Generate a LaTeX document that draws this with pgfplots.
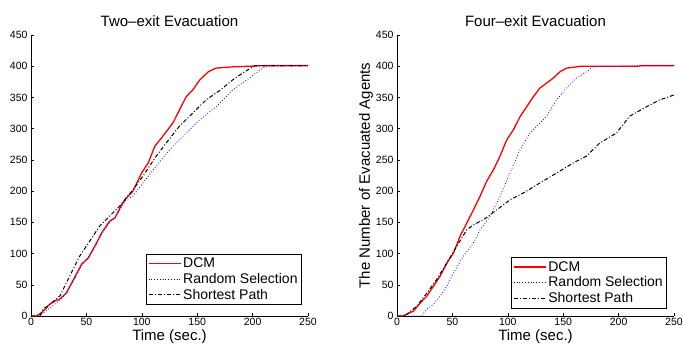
\documentclass[border=0pt]{standalone}
\usepackage{pgfplots}
\pgfplotsset{compat=1.18}
\usepackage{fontspec}
\setmainfont{Liberation Sans}
\pgfplotsset{
  myax/.style={
    scale only axis, width=277pt, height=281pt,
    xmin=0, xmax=250, ymin=0, ymax=450,
    xtick={0,50,...,250}, ytick={0,50,...,450},
    axis lines*=left, axis line style={black, line width=0.5pt},
    tick align=inside, tick style={black, line width=0.5pt},
    major tick length=3pt,
    tick label style={font=\fontsize{10.5}{12}\selectfont},
    xticklabel style={yshift=1pt},
    /pgf/number format/assume math mode=true,
    xlabel={Time (sec.)},
    xlabel style={font=\fontsize{15}{17}\selectfont, yshift=3pt},
    ylabel style={font=\fontsize{15}{17}\selectfont, yshift=-4pt},
    title style={font=\fontsize{15}{17}\selectfont, yshift=-1pt},
    legend cell align=left,
    legend style={font=\fontsize{14}{16}\selectfont, draw=black, line width=0.6pt, inner sep=2pt, row sep=0pt, nodes={inner sep=2pt}},
    clip=false,
  },
  dcm/.style={red, line width=1.3pt},
  rnd/.style={blue, dotted, line width=0.8pt},
  spt/.style={black, dash pattern=on 4pt off 2pt on 1pt off 2pt, line width=1pt},
  legend image code/.code={\draw[#1] (0pt,0pt) -- (32pt,0pt);},
}
\begin{document}
\begin{tikzpicture}
\begin{axis}[myax, at={(0pt,0pt)}, title={Two–exit Evacuation}, ylabel={\phantom{T}},
  legend style={at={(0.978,0.039)}, anchor=south east}]
\addlegendimage{dcm}
\addlegendentry{DCM}
\addlegendimage{rnd}
\addlegendentry{Random Selection}
\addlegendimage{spt}
\addlegendentry{Shortest Path}
\addplot[dcm, forget plot] coordinates {
(0,0)(5,0)(10,6)(17,19)(21.6,24)(26,27)(32,37)(40,64)(45.7,83)(51.7,93)(57.7,112)(63.7,133)(71,152)(75.7,157)(81.7,178)(86,189)(92,200)(99.8,229)(105.8,245)(111.8,272)(119,288)(128,309)(134,330)(140,351)(146,362)(152.3,378)(159.9,391)(167,397)(182,399)(197,400)(212,401)(250,401)};
\addplot[rnd, forget plot] coordinates {
(0,0)(8,0)(12,6)(17,13)(25,24)(32,37)(40,62)(46,82)(52,94)(58,112)(64,132)(71,150)(76,158)(82,175)(86,186)(92,192)(101,213)(113,240)(128,272)(140,293)(152,314)(167,335)(182,362)(197,381)(209,397)(212,400)(250,401)};
\addplot[spt, forget plot] coordinates {
(0,0)(8,0)(11,11)(18,20)(26,32)(35,64)(44,96)(53,120)(62,144)(71,160)(80,176)(92,202)(101,224)(113,256)(122,277)(134,304)(146,325)(158,346)(171,362)(182,378)(191,389)(200,399)(203,401)(250,401)};
\end{axis}
\begin{axis}[myax, at={(366pt,0pt)}, title={Four–exit Evacuation},
  ylabel={The Number of Evacuated Agents},
  legend style={at={(0.975,0.028)}, anchor=south east}]
\addlegendimage{dcm}
\addlegendentry{DCM}
\addlegendimage{rnd}
\addlegendentry{Random Selection}
\addlegendimage{spt}
\addlegendentry{Shortest Path}
\addplot[dcm, forget plot] coordinates {
(0,0)(5,0)(9,3)(15,8)(21,21)(27,32)(33,48)(39,64)(45,85)(51,101)(57,128)(63,149)(69,170)(75,192)(81,216)(87,234)(93,256)(99,282)(105,298)(111,319)(117,335)(123,351)(129,365)(135,373)(141,381)(147,391)(153,397)(162,399)(165,400)(218,400)(220,401)(250,401)};
\addplot[rnd, forget plot] coordinates {
(0,0)(22,0)(27,11)(33,19)(39,32)(45,48)(51,69)(60,96)(69,117)(75,138)(84,160)(93,192)(102,229)(111,266)(120,293)(129,309)(135,320)(144,346)(153,365)(162,381)(171,391)(177,399)(200,400)(220,401)(250,401)};
\addplot[spt, forget plot] coordinates {
(0,0)(7,0)(9,3)(18,16)(27,37)(36,59)(45,85)(54,112)(63,138)(69,146)(78,154)(90,170)(102,186)(114,197)(129,213)(144,229)(159,245)(171,256)(183,277)(198,293)(210,320)(225,335)(237,346)(250,354)};
\end{axis}
\pgfresetboundingbox
\path[use as bounding box] (-31pt,-33pt) rectangle (652pt,316pt);
\end{tikzpicture}
\end{document}
